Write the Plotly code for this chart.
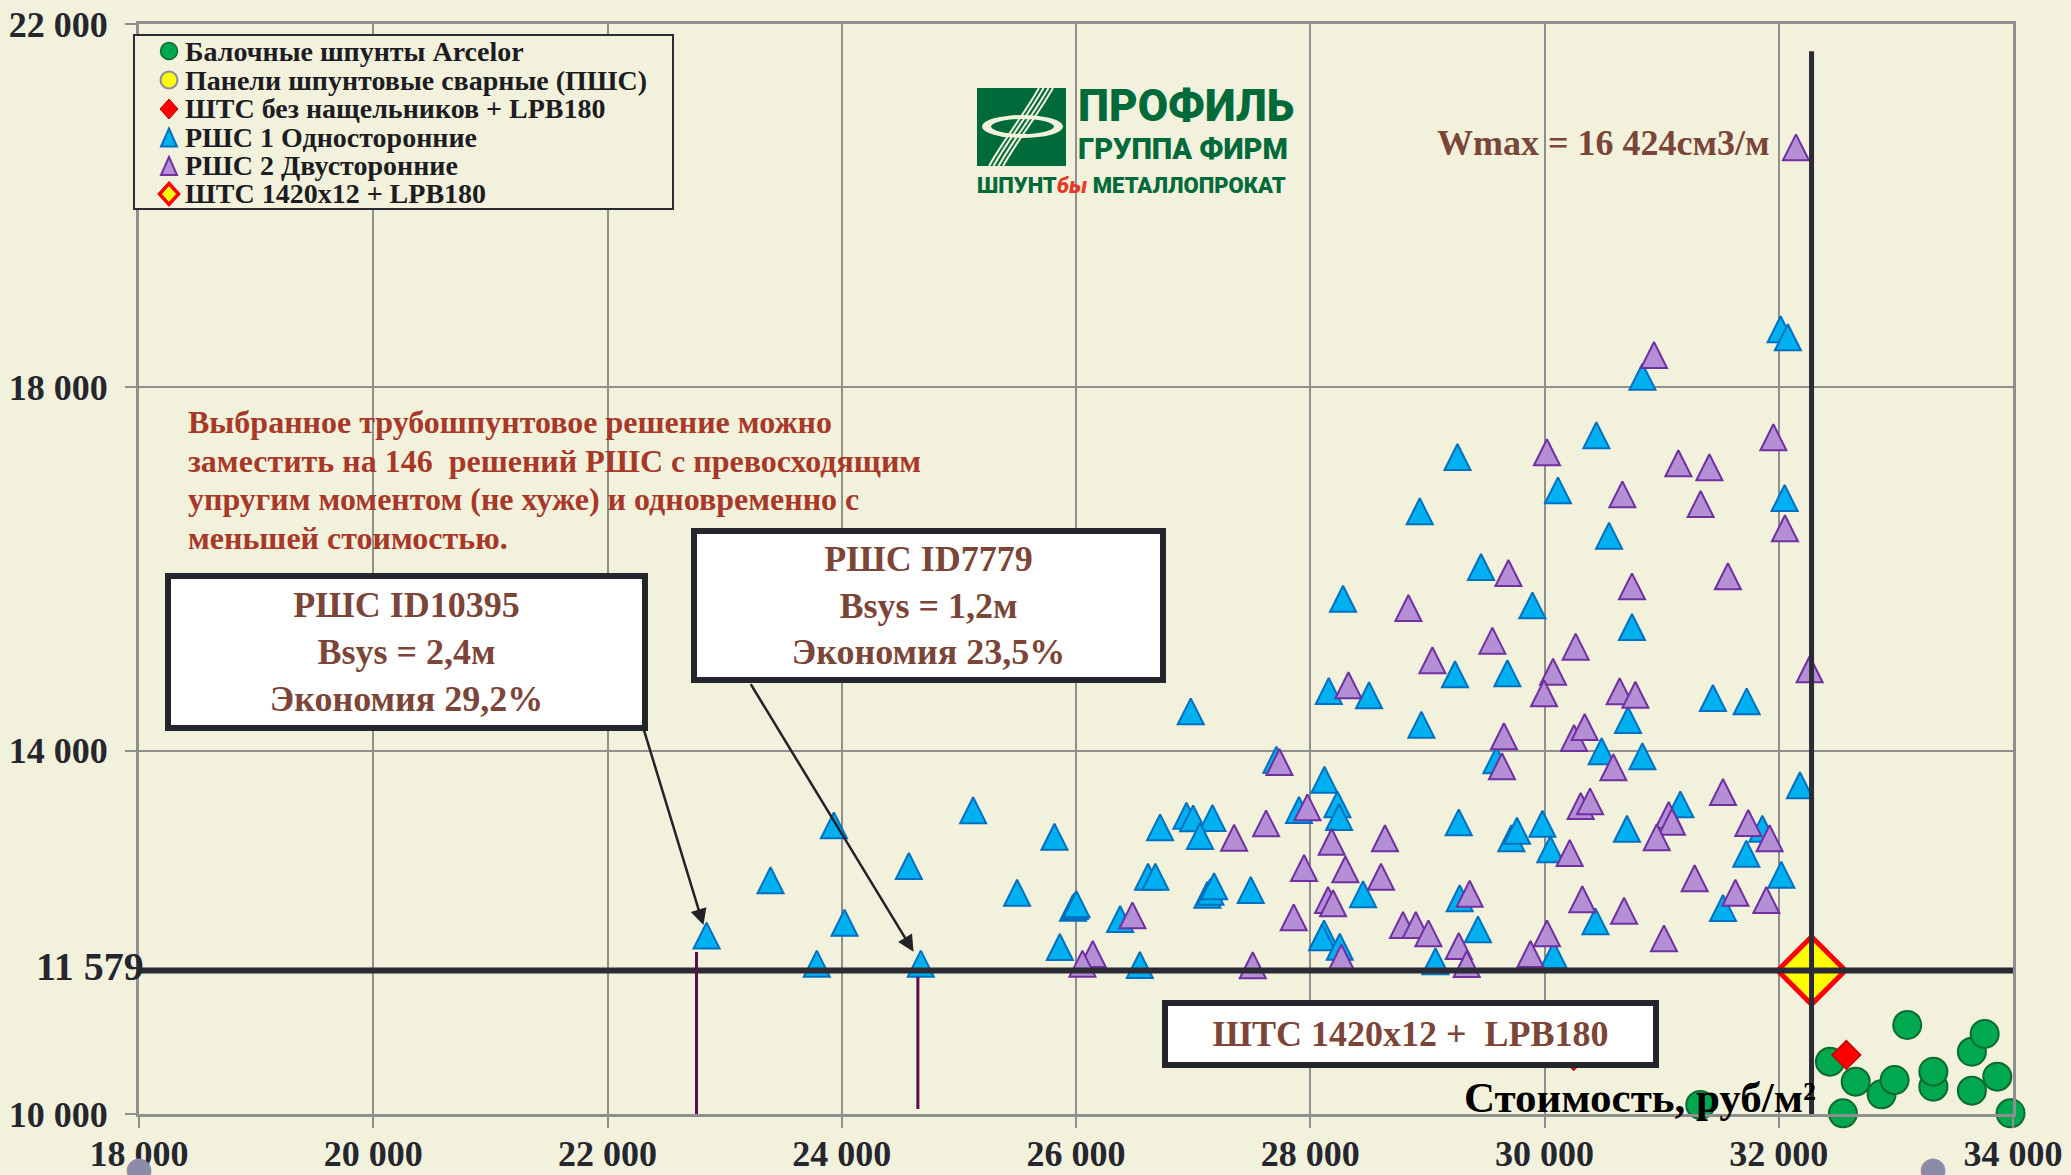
import plotly.graph_objects as go

# ---------------- data ----------------
# РШС 1 (односторонние): стоимость, руб/м2 и момент сопротивления W
rsh1_cost = [22846, 23392, 23933, 24024, 23787, 24573, 24675, 25122, 25816, 25497, 25862, 25975, 25990, 26004,
             28280, 28158, 28502, 28949, 29236, 26980, 27711, 28121, 27904, 28232, 28246, 26718, 26943, 27000,
             27165, 27059, 26615, 26678, 27122, 27148, 27179, 27492, 26377, 26545, 28118, 28101, 28252, 28451,
             29268, 29069, 29276,
             29458, 29897, 30747, 29683, 30713, 31438, 31726, 29589, 30488, 30836, 32181, 29717, 29765, 29982,
             30050, 30704, 31160, 31860, 31723, 32022, 31524, 30435, 29432, 30079,
             32016, 32078, 30836, 30443, 30115, 32050, 30551, 29257, 28935]
rsh1_w = [11964, 12573, 13178, 12106, 11655, 12730, 11655, 13344, 13053, 12436, 11838, 12271, 12290, 12309,
          15673, 14657, 14610, 14286, 14841, 14433, 13901, 13680, 13347, 13409, 13270, 13156, 13284, 13255,
          13259, 13061, 12612, 12612, 12414, 12447, 12507, 12466, 12147, 11640, 11989, 11945, 11842, 12419,
          13211, 11681, 12375,
          16022, 15600, 15361, 14852, 14338, 14580, 14543, 13894, 13993, 13938, 13619, 13035, 13119, 13196,
          12914, 13141, 13409, 13141, 12866, 12634, 12268, 12121, 12033, 11750,
          18639, 18551, 18117, 17472, 16866, 16782, 16367, 17233, 16635]

# РШС 2 (двусторонние)
rsh2_cost = [28838, 29043, 28326, 27737, 27976, 27623, 27350, 28183, 28638, 27947, 28300, 28604, 28152, 28195,
             27859, 26482, 28266, 27509, 26143, 26055, 28792, 28901, 29009, 29268, 29336, 29361,
             29692, 30747, 31566, 29555, 30266, 30073, 29996, 30642, 30776, 32264, 29654, 29637, 30252, 30343,
             30588, 30309, 30389, 31060, 31088, 30958, 30215, 31524, 31740, 31922, 31282, 31630, 31894, 30323,
             30679, 31020, 30021, 29880,
             32147, 30935, 30021, 31954, 31143, 31408, 30665, 31333, 32053]
rsh2_w = [15571, 14995, 14720, 13875, 13376, 13200, 13042, 12998, 13035, 12708, 12694, 12612, 12356, 12320,
          12165, 12187, 11721, 11637, 11761, 11655, 12081, 12081, 11989, 11850, 11651, 12425,
          15956, 15809, 15920, 15211, 15145, 14869, 14632, 14654, 14616, 14896, 14158, 13828, 14139, 14260,
          13817, 13391, 13442, 13292, 13218, 13046, 12873, 13545, 13204, 13035, 12595, 12436, 12356, 12364,
          12238, 11934, 11989, 11761,
          20642, 18356, 17285, 17450, 17164, 17120, 16822, 16715, 16448]

# Балочные шпунты Arcelor
arcelor_cost = [33097, 32437, 32657, 32878, 32989, 32548, 33320, 33320, 33649, 33758, 33649, 33866, 33979, 31330]
arcelor_w = [10980, 10576, 10356, 10217, 10374, 10008, 10301, 10466, 10686, 10881, 10257, 10411, 10008, 10100]

# ШТС без нащельников + LPB180
shts_plain_cost = [32577, 30249]
shts_plain_w = [10650, 10640]

# Панели шпунтовые сварные (ПШС) - no points inside the shown range
panel_cost = []
panel_w = []

# points below the W range (shown under the axis)
low_cost = [18000, 33317]
low_w = [9405, 9405]

# selected solution: ШТС 1420x12 + LPB180
selected_cost = 32280
selected_w = 11579

# drop lines under the two highlighted РШС solutions
drop_cost = [22760, 24650]
drop_top = [11783, 11508]
drop_bottom = [9967, 10055]
highlight_cost = [22846, 24675]
highlight_w = [11964, 11655]

x_range = [18000, 34000]
y_range = [10000, 22000]
vline_w = [9980, 21700]

# ---------------- layout helpers ----------------
FIG_W, FIG_H = 2071, 1175
PL, PR, PT, PB = 139, 2013, 24, 1114


def fx(px):
    return (px - PL) / (PR - PL)


def fy(py):
    return (PB - py) / (PB - PT)


def w_to_paper(w):
    return (w - y_range[0]) / (y_range[1] - y_range[0])


BG = "#f2f1dc"
GRID = "#8f8f8f"
DARK = "#2b2b35"
BROWN = "#7b4538"
SERIF = "Liberation Serif"

BLUE_FILL, BLUE_LINE = "#00b0f0", "#0070c0"
PURP_FILL, PURP_LINE = "#b48fd6", "#7030a0"
GREEN_FILL, GREEN_LINE = "#00a84f", "#0d6b2f"

TRI = dict(symbol="arrow-down", angle=180, size=26, standoff=13)

fig = go.Figure()

fig.add_trace(go.Scatter(x=arcelor_cost, y=arcelor_w, mode="markers", cliponaxis=False,
                         name="Балочные шпунты Arcelor",
                         marker=dict(size=28, color=GREEN_FILL, line=dict(color=GREEN_LINE, width=2))))
fig.add_trace(go.Scatter(x=panel_cost, y=panel_w, mode="markers", cliponaxis=False,
                         name="Панели шпунтовые сварные (ПШС)",
                         marker=dict(size=16, color="#ffff00", line=dict(color="#8c8c9c", width=2))))
fig.add_trace(go.Scatter(x=shts_plain_cost, y=shts_plain_w, mode="markers", cliponaxis=False,
                         name="ШТС без нащельников + LPB180",
                         marker=dict(symbol="diamond", size=22, color="#ff0000",
                                     line=dict(color="#c00000", width=1.5))))
fig.add_trace(go.Scatter(x=rsh1_cost, y=rsh1_w, mode="markers", cliponaxis=False,
                         name="РШС 1 Односторонние",
                         marker=dict(**TRI, color=BLUE_FILL, line=dict(color=BLUE_LINE, width=2))))
fig.add_trace(go.Scatter(x=rsh2_cost, y=rsh2_w, mode="markers", cliponaxis=False,
                         name="РШС 2 Двусторонние",
                         marker=dict(**TRI, color=PURP_FILL, line=dict(color=PURP_LINE, width=2))))
fig.add_trace(go.Scatter(x=[selected_cost], y=[selected_w], mode="markers", cliponaxis=False,
                         name="ШТС 1420x12 + LPB180",
                         marker=dict(symbol="diamond", size=52, color="#ffff00",
                                     line=dict(color="#ff0000", width=5))))

# reference lines through the selected solution
fig.add_trace(go.Scatter(x=x_range, y=[selected_w, selected_w], mode="lines", cliponaxis=False,
                         showlegend=False, line=dict(color=DARK, width=6)))
fig.add_trace(go.Scatter(x=[selected_cost, selected_cost], y=vline_w, mode="lines", cliponaxis=False,
                         showlegend=False, line=dict(color=DARK, width=5)))
for xc, yt, yb in zip(drop_cost, drop_top, drop_bottom):
    fig.add_trace(go.Scatter(x=[xc, xc], y=[yb, yt], mode="lines", cliponaxis=False,
                             showlegend=False, line=dict(color="#5b0c4b", width=3)))

ann = []
shapes = []

# points below the axis range, placed on the cost axis
for xc, wv in zip(low_cost, low_w):
    ann.append(dict(xref="x", yref="paper", x=xc, y=w_to_paper(wv), text="●", showarrow=False,
                    xanchor="center", yanchor="middle",
                    font=dict(family="DejaVu Sans", size=32, color="#8d8ca8")))

# --- custom legend ---
legend_rows = [
    ("Балочные шпунты Arcelor", "circle", "#00a84f", "#0d6b2f", 1.5),
    ("Панели шпунтовые сварные (ПШС)", "circle", "#ffff00", "#8c8c9c", 2),
    ("ШТС без нащельников + LPB180", "diamond", "#ff0000", "#c00000", 1),
    ("РШС 1 Односторонние", "tri", BLUE_FILL, BLUE_LINE, 2),
    ("РШС 2 Двусторонние", "tri", PURP_FILL, PURP_LINE, 2),
    ("ШТС 1420x12 + LPB180", "bigdiamond", "#ffff00", "#ff0000", 3.5),
]
shapes.append(dict(type="rect", xref="paper", yref="paper", x0=fx(134), x1=fx(673), y0=fy(35), y1=fy(209),
                   line=dict(color=DARK, width=2), fillcolor=BG, layer="above"))
row_y = [51, 80, 109, 137.5, 166, 194]
for (label, kind, fill, edge, lw), ry in zip(legend_rows, row_y):
    base = dict(xref="paper", yref="paper", xsizemode="pixel", ysizemode="pixel",
                xanchor=fx(169), yanchor=fy(ry), fillcolor=fill, line=dict(color=edge, width=lw),
                layer="above")
    if kind == "circle":
        shapes.append(dict(type="circle", x0=-8.5, x1=8.5, y0=-8.5, y1=8.5, **base))
    elif kind == "diamond":
        shapes.append(dict(type="path", path="M0,10 L9,0 L0,-10 L-9,0 Z", **base))
    elif kind == "bigdiamond":
        shapes.append(dict(type="path", path="M0,10.5 L9.5,0 L0,-10.5 L-9.5,0 Z", **base))
    else:
        shapes.append(dict(type="path", path="M0,9 L-8,-9 L8,-9 Z", **base))
    ann.append(dict(xref="paper", yref="paper", x=fx(183), y=fy(ry), xanchor="left", yanchor="middle",
                    text=label, showarrow=False,
                    font=dict(family=SERIF, size=28, color="#1c1c22", weight="bold")))

# --- company logo ---
shapes.append(dict(type="rect", xref="paper", yref="paper", x0=fx(977), x1=fx(1066), y0=fy(88), y1=fy(166),
                   fillcolor="#006b3a", line=dict(width=0), layer="above"))
shapes.append(dict(type="circle", xref="paper", yref="paper", x0=fx(982), x1=fx(1063), y0=fy(115), y1=fy(138),
                   fillcolor="#f2f1dc", line=dict(width=0), layer="above"))
shapes.append(dict(type="circle", xref="paper", yref="paper", x0=fx(991), x1=fx(1054), y0=fy(119), y1=fy(134),
                   fillcolor="#006b3a", line=dict(width=0), layer="above"))
for d in (-7, -2.5, 2.5, 7):
    p = "M{:.5f},{:.5f} C{:.5f},{:.5f} {:.5f},{:.5f} {:.5f},{:.5f}".format(
        fx(996 + d), fy(166), fx(1012 + d), fy(138), fx(1030 + d), fy(116), fx(1046 + d), fy(88))
    shapes.append(dict(type="path", xref="paper", yref="paper", path=p,
                       line=dict(color="#f2f1dc", width=2), layer="above"))
LOGO = "#006a3a"
ann.append(dict(xref="paper", yref="paper", x=fx(1076), y=fy(106), xanchor="left", yanchor="middle",
                text="ПРОФИЛЬ", showarrow=False,
                font=dict(family="Roboto", size=44, color=LOGO, weight=900)))
ann.append(dict(xref="paper", yref="paper", x=fx(1076), y=fy(149), xanchor="left", yanchor="middle",
                text="ГРУППА ФИРМ", showarrow=False,
                font=dict(family="Roboto", size=29, color=LOGO, weight=900)))
ann.append(dict(xref="paper", yref="paper", x=fx(975), y=fy(186), xanchor="left", yanchor="middle",
                text="ШПУНТ<span style='color:#e53b27'><i>бы</i></span> МЕТАЛЛОПРОКАТ", showarrow=False,
                font=dict(family="Roboto", size=22, color=LOGO, weight=900)))

# --- texts ---
ann.append(dict(xref="paper", yref="paper", x=fx(1772), y=fy(143), xanchor="right", yanchor="middle",
                text="Wmax = 16 424см3/м", showarrow=False,
                font=dict(family=SERIF, size=36, color=BROWN, weight="bold")))

note_lines = ["Выбранное трубошпунтовое решение можно",
              "заместить на 146 \u00a0решений РШС с превосходящим",
              "упругим моментом (не хуже) и одновременно с",
              "меньшей стоимостью."]
for line, ly in zip(note_lines, [422, 460.5, 499, 537.5]):
    ann.append(dict(xref="paper", yref="paper", x=fx(186), y=fy(ly), xanchor="left", yanchor="middle",
                    align="left", showarrow=False, text=line,
                    font=dict(family=SERIF, size=32, color="#a83828", weight="bold")))

box_font = dict(family=SERIF, size=36, color=BROWN, weight="bold")
ann.append(dict(xref="paper", yref="paper", x=fx(406.5), y=fy(652), xanchor="center", yanchor="middle",
                text="РШС ID10395<br>Bsys = 2,4м<br>Экономия 29,2%", showarrow=False,
                width=471, height=146, bgcolor="#ffffff", bordercolor="#25252d", borderwidth=6, borderpad=0,
                font=box_font))
ann.append(dict(xref="paper", yref="paper", x=fx(928.5), y=fy(605.5), xanchor="center", yanchor="middle",
                text="РШС ID7779<br>Bsys = 1,2м<br>Экономия 23,5%", showarrow=False,
                width=463, height=143, bgcolor="#ffffff", bordercolor="#25252d", borderwidth=6, borderpad=0,
                font=box_font))
ann.append(dict(xref="paper", yref="paper", x=fx(1410.5), y=fy(1034), xanchor="center", yanchor="middle",
                text="ШТС 1420x12 + \u00a0LPB180", showarrow=False,
                width=485, height=56, bgcolor="#ffffff", bordercolor="#25252d", borderwidth=6, borderpad=0,
                font=dict(family=SERIF, size=36, color=BROWN, weight="bold")))

# arrows to the highlighted solutions
ann.append(dict(x=highlight_cost[0], y=highlight_w[0], xref="x", yref="y", text="", showarrow=True,
                ax=-64, ay=-210, arrowhead=2, arrowsize=1.3, arrowwidth=2.5, arrowcolor="#222228", standoff=11))
ann.append(dict(x=highlight_cost[1], y=highlight_w[1], xref="x", yref="y", text="", showarrow=True,
                ax=-171, ay=-281, arrowhead=2, arrowsize=1.3, arrowwidth=2.5, arrowcolor="#222228", standoff=14))

# required W label on the axis
ann.append(dict(xref="paper", yref="y", x=fx(146), y=selected_w, yshift=4, xanchor="right", yanchor="middle",
                text="11 579", showarrow=False,
                font=dict(family=SERIF, size=40, color="#26262e", weight="bold")))

# axis title
ann.append(dict(xref="paper", yref="paper", x=fx(1818), y=fy(1097), xanchor="right", yanchor="middle",
                text="Стоимость, руб/м²", showarrow=False,
                font=dict(family=SERIF, size=43, color="#000000", weight="bold")))

tickfont = dict(family=SERIF, size=36, color="#26262e", weight="bold")
axis_common = dict(showgrid=True, gridcolor=GRID, gridwidth=2, zeroline=False,
                   showline=True, mirror=True, linecolor=GRID, linewidth=3,
                   ticks="outside", ticklen=11, tickwidth=2, tickcolor=GRID,
                   tickformat=",d", tickfont=tickfont, automargin=False)

fig.update_layout(
    width=FIG_W, height=FIG_H,
    margin=dict(l=PL, r=FIG_W - PR, t=PT, b=FIG_H - PB, autoexpand=False),
    paper_bgcolor=BG, plot_bgcolor=BG,
    separators=", ",
    showlegend=False,
    xaxis=dict(range=x_range, tick0=18000, dtick=2000, ticklabelstandoff=-5, **axis_common),
    yaxis=dict(range=y_range, tick0=10000, dtick=4000, ticklabelstandoff=10, **axis_common),
    annotations=ann,
    shapes=shapes,
)

fig.write_html("out.html", config={"displayModeBar": False})
